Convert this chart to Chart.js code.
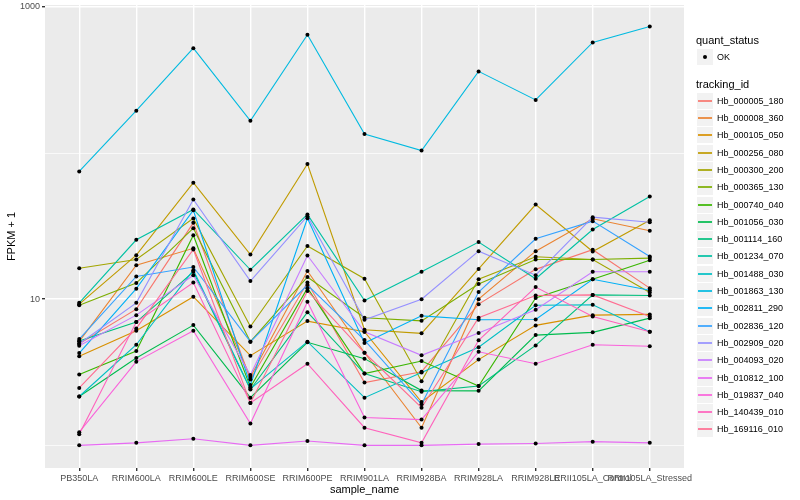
<!DOCTYPE html>
<html>
<head>
<meta charset="utf-8">
<script src="https://cdn.jsdelivr.net/npm/chart.js@4.4.1/dist/chart.umd.min.js"></script>
<style>
  body { margin: 0; background: #fff; font-family: "Liberation Sans", Arial, sans-serif; }
  #wrap { position: relative; width: 800px; height: 500px; }
  #chart { position: absolute; left: 0; top: 0; }
  .ltitle { position: absolute; left: 696px; font-size: 11px; line-height: 13px; color: #000; }
  .key { position: absolute; left: 697px; width: 16px; height: 16px; background: #F2F2F2; }
  .key i { position: absolute; left: 1px; right: 1px; top: 7px; height: 2px; opacity: 0.85; }
  .key b { position: absolute; left: 6px; top: 6px; width: 4px; height: 4px; border-radius: 50%; background: #000; }
  .lab { position: absolute; left: 717px; font-size: 9px; line-height: 10px; color: #000; white-space: nowrap; }
</style>
</head>
<body>
<div id="wrap">
  <canvas id="chart" width="800" height="500"></canvas>
  <div id="legend"></div>
</div>
<script>
const samples = ["PB350LA", "RRIM600LA", "RRIM600LE", "RRIM600SE", "RRIM600PE", "RRIM901LA",
  "RRIM928BA", "RRIM928LA", "RRIM928LE", "RRII105LA_Control", "RRII105LA_Stressed"];

// FPKM + 1, one value per sample
const hb_000005_180 = [4.96, 8.55, 33.3, 2.82, 13.0, 2.69, 3.19, 9.25, 16.0, 21.8, 11.9];
const hb_000008_360 = [5.15, 17.1, 22.3, 2.93, 15.6, 4.30, 1.32, 10.0, 21.3, 35.5, 29.4];
const hb_000105_050 = [4.07, 6.08, 10.4, 4.11, 7.08, 5.99, 1.98, 3.86, 6.62, 7.78, 7.87];
const hb_000256_080 = [9.25, 20.0, 62.7, 20.2, 84.1, 6.18, 5.84, 16.1, 44.4, 21.2, 34.7];
const hb_000300_200 = [16.3, 18.7, 35.7, 6.51, 23.1, 13.8, 2.75, 13.7, 19.5, 18.7, 11.1];
const hb_000365_130 = [9.10, 12.9, 30.6, 5.12, 14.2, 7.46, 7.11, 12.7, 18.7, 18.7, 19.1];
const hb_000740_040 = [3.05, 4.42, 27.4, 2.50, 11.9, 3.10, 3.78, 2.55, 10.2, 13.7, 18.5];
const hb_001056_030 = [2.16, 3.96, 6.65, 2.12, 5.07, 3.92, 2.37, 2.36, 5.68, 5.93, 7.42];
const hb_001114_160 = [5.17, 6.97, 15.4, 2.41, 8.15, 3.10, 2.33, 2.55, 4.83, 10.7, 10.6];
const hb_001234_070 = [9.44, 25.5, 41.1, 15.9, 38.0, 9.80, 15.4, 24.6, 13.8, 30.0, 50.4];
const hb_001488_030 = [2.16, 4.88, 15.8, 2.43, 5.12, 2.12, 3.15, 4.69, 9.10, 9.15, 5.99];
const hb_001863_130 = [74.9, 195, 522, 166, 644, 135, 104, 362, 231, 571, 734];
const hb_002811_290 = [4.28, 11.8, 40.6, 2.59, 35.8, 5.01, 7.69, 7.23, 7.27, 13.7, 11.5];
const hb_002836_120 = [5.34, 14.3, 16.6, 5.12, 12.5, 5.25, 1.91, 11.2, 25.9, 34.2, 19.6];
const hb_002909_020 = [4.96, 9.44, 48.1, 13.3, 37.0, 7.23, 10.0, 21.3, 14.6, 36.4, 33.6];
const hb_004093_020 = [4.81, 7.78, 14.6, 3.03, 19.9, 5.99, 4.13, 5.87, 8.46, 15.4, 15.4];
const hb_010812_100 = [1.00, 1.04, 1.11, 1.00, 1.07, 1.00, 1.00, 1.02, 1.03, 1.06, 1.04];
const hb_019837_040 = [1.23, 3.74, 6.08, 1.41, 9.59, 1.55, 1.50, 4.37, 3.62, 4.88, 4.76];
const hb_140439_010 = [1.19, 6.97, 13.0, 1.95, 3.62, 1.32, 1.04, 5.23, 12.1, 7.62, 5.99];
const hb_169116_010 = [2.47, 6.31, 21.9, 1.95, 11.4, 4.30, 1.81, 7.46, 10.6, 10.7, 7.62];

const trackingIds = ["Hb_000005_180", "Hb_000008_360", "Hb_000105_050", "Hb_000256_080", "Hb_000300_200",
  "Hb_000365_130", "Hb_000740_040", "Hb_001056_030", "Hb_001114_160", "Hb_001234_070",
  "Hb_001488_030", "Hb_001863_130", "Hb_002811_290", "Hb_002836_120", "Hb_002909_020",
  "Hb_004093_020", "Hb_010812_100", "Hb_019837_040", "Hb_140439_010", "Hb_169116_010"];
const series = [hb_000005_180, hb_000008_360, hb_000105_050, hb_000256_080, hb_000300_200,
  hb_000365_130, hb_000740_040, hb_001056_030, hb_001114_160, hb_001234_070,
  hb_001488_030, hb_001863_130, hb_002811_290, hb_002836_120, hb_002909_020,
  hb_004093_020, hb_010812_100, hb_019837_040, hb_140439_010, hb_169116_010];
const colors = ["#F8766D", "#EA8331", "#D89000", "#C09B00", "#A3A500", "#7CAE00", "#39B600",
  "#00BB4E", "#00BF7D", "#00C1A3", "#00BFC4", "#00BAE0", "#00B0F6", "#35A2FF", "#9590FF",
  "#C77CFF", "#E76BF3", "#FA62DB", "#FF62BC", "#FF6C91"];

const yTicks = [1, 10, 100, 1000];
const yLabels = [10, 1000];

Chart.defaults.font.family = '"Liberation Sans", Arial, sans-serif';

const panelBg = {
  id: "panelBg",
  beforeDraw(chart) {
    const { ctx, chartArea: a } = chart;
    ctx.save();
    ctx.fillStyle = "#EBEBEB";
    ctx.fillRect(a.left, a.top, a.right - a.left, a.bottom - a.top);
    ctx.restore();
  }
};

const datasets = series.map((vals, k) => ({
  type: "line",
  label: trackingIds[k],
  data: vals.map((v, i) => ({ x: i, y: v })),
  borderColor: colors[k],
  borderWidth: 1.1,
  pointRadius: 0,
  tension: 0,
  order: series.length - k
}));

// points drawn on top of all lines
datasets.push({
  type: "scatter",
  label: "OK",
  data: series.flatMap(vals => vals.map((v, i) => ({ x: i, y: v }))),
  backgroundColor: "#000",
  borderWidth: 0,
  pointRadius: 2,
  order: -1
});

new Chart(document.getElementById("chart").getContext("2d"), {
  type: "line",
  data: { datasets },
  plugins: [panelBg],
  options: {
    responsive: false,
    animation: false,
    layout: { padding: { top: 5, right: 116, left: 0, bottom: 0 } },
    plugins: { legend: { display: false }, tooltip: { enabled: false } },
    scales: {
      x: {
        type: "linear",
        min: -0.6,
        max: 10.6,
        afterBuildTicks: s => { s.ticks = samples.map((_, i) => ({ value: i })); },
        afterFit: s => { s.height = 32; s.paddingLeft = 0; s.paddingRight = 0; },
        ticks: {
          autoSkip: false, maxRotation: 0, minRotation: 0, padding: 2,
          color: "#4D4D4D", font: { size: 9 },
          callback: v => samples[v]
        },
        grid: { color: "#FFFFFF", lineWidth: 1.4, tickLength: 3, tickColor: "#333333" },
        border: { display: false },
        title: { display: true, text: "sample_name", color: "#000", font: { size: 11 }, padding: { top: 0, bottom: 3 } }
      },
      y: {
        type: "logarithmic",
        min: 0.72,
        max: 1030,
        afterBuildTicks: s => { s.ticks = yTicks.map(v => ({ value: v })); },
        afterFit: s => { s.width = 45; s.paddingTop = 0; s.paddingBottom = 0; },
        ticks: {
          color: "#4D4D4D", font: { size: 9 }, padding: 2,
          callback: v => yLabels.includes(v) ? String(v) : ""
        },
        grid: {
          color: "#FFFFFF",
          lineWidth: c => (c.tick && yLabels.includes(c.tick.value)) ? 1.4 : 0.7,
          tickLength: 3,
          tickColor: c => (c.tick && yLabels.includes(c.tick.value)) ? "#333333" : "rgba(0,0,0,0)"
        },
        border: { display: false },
        title: { display: true, text: "FPKM + 1", color: "#000", font: { size: 11 }, padding: { top: 5, bottom: 0 } }
      }
    }
  }
});

// legend, ggplot style
const legend = document.getElementById("legend");
let html = '<div class="ltitle" style="top:34px">quant_status</div>';
html += '<div class="key" style="top:49px"><b></b></div><div class="lab" style="top:52px">OK</div>';
html += '<div class="ltitle" style="top:78px">tracking_id</div>';
trackingIds.forEach((id, k) => {
  const cy = Math.round(100.7 + k * 17.3);
  html += `<div class="key" style="top:${cy - 8}px"><i style="background:${colors[k]}"></i></div>`;
  html += `<div class="lab" style="top:${cy - 5}px">${id}</div>`;
});
legend.innerHTML = html;
</script>
</body>
</html>
